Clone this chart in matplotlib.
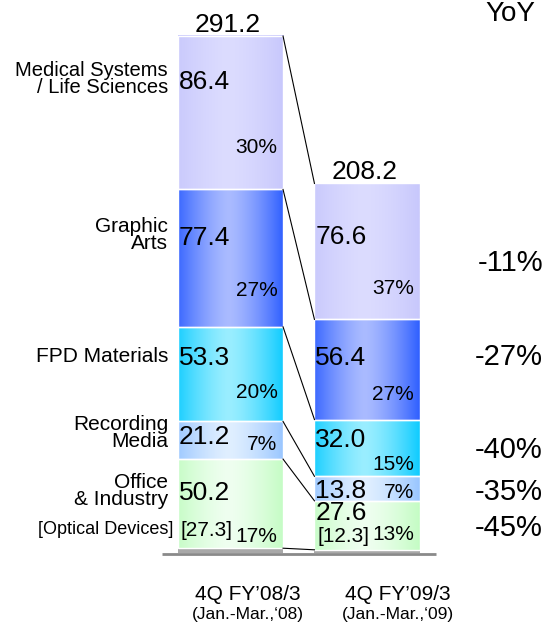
import numpy as np
import matplotlib
matplotlib.use("Agg")
import matplotlib.pyplot as plt

plt.rcParams['font.family'] = ['Liberation Sans', 'DejaVu Sans']

# data (billion yen), stacked top -> bottom
segments = ["Medical Systems\n/ Life Sciences", "Graphic\nArts", "FPD Materials",
            "Recording\nMedia", "Office\n& Industry"]
fy08 = [86.4, 77.4, 53.3, 21.2, 50.2]
fy09 = [76.6, 56.4, 32.0, 13.8, 27.6]
share08 = [30, 27, 20, 7, 17]
share09 = [37, 27, 15, 7, 13]
totals = [291.2, 208.2]
optical = [27.3, 12.3]
yoy = [-11, -27, -40, -35, -45]
periods = ["4Q FY\u201908/3", "4Q FY\u201909/3"]
subperiods = ["(Jan.-Mar.,\u201808)", "(Jan.-Mar.,\u201809)"]

# colours: (edge, centre) for the gradients
colors = [("#c8c8fc", "#dcdcff"), ("#3060ff", "#aabbff"), ("#10ccff", "#9aeeff"),
          ("#99c6ff", "#e0efff"), ("#c4fcc4", "#effff0")]
other_color = "#a8a8a8"

# pixel layout helpers (reference is 550x623)
X0, UX = 230.5, 136.5
BASE, UY = 553.0, 1.775


def px(x, y):
    return (x - X0) / UX, (BASE - y) / UY


def gradient(edge, centre, n=80):
    e = np.array(matplotlib.colors.to_rgb(edge))
    c = np.array(matplotlib.colors.to_rgb(centre))
    t = np.linspace(0, 1, n)
    w = np.clip(np.abs(t - 0.48) / 0.52, 0, 1) ** 1.4
    return (c[None, :] * (1 - w[:, None]) + e[None, :] * w[:, None])[None, :, :]


fig = plt.figure(figsize=(5.5, 6.23), dpi=100)
ax = fig.add_axes([0, 0, 1, 1])
ax.axis("off")

xs = [0, 1]
width = 0.77
bounds = []
for xi, vals, tot in zip(xs, [fy08, fy09], totals):
    other = tot - sum(vals)
    left, right = xi - width / 2, xi + width / 2
    ax.add_patch(plt.Rectangle((left, 0), width, other, facecolor=other_color,
                               edgecolor="none", zorder=2))
    bottom = other
    for v, (ec, cc) in zip(vals[::-1], colors[::-1]):
        ax.imshow(gradient(ec, cc), extent=(left, right, bottom, bottom + v),
                  aspect="auto", interpolation="bilinear", zorder=2)
        ax.add_patch(plt.Rectangle((left, bottom), width, v, facecolor="none",
                                   edgecolor="white", lw=1.0, zorder=3))
        bottom += v
    # boundaries top -> bottom: total top, then each segment bottom
    b = [tot] + [tot - sum(vals[:i + 1]) for i in range(len(vals))]
    bounds.append(b)

# connecting lines
for y1, y2 in zip(bounds[0], bounds[1]):
    ax.plot([xs[0] + width / 2, xs[1] - width / 2], [y1, y2], color="black",
            lw=0.8, zorder=4)

# baseline
ax.plot([px(162, 0)[0], px(436, 0)[0]], [-0.5, -0.5], color="#8a8a8a", lw=2,
        zorder=1, solid_capstyle="butt")

# totals
for xi, tot, ty in zip(xs, totals, [32, 179]):
    ax.text(xi - 0.02, px(0, ty)[1], f"{tot:.1f}", ha="center", va="baseline",
            fontsize=19)

# segment labels on the left
label_y = [79, 235, 357, 433, 491]
for lab, ly in zip(segments, label_y):
    fs = 14.5 if lab.startswith("Medical") else 15
    ax.text(*px(168, ly), lab, ha="right", va="center", fontsize=fs,
            linespacing=0.92)
ax.text(*px(173, 530), "[Optical Devices]", ha="right", va="center", fontsize=13)

# values and shares in the bars
val_y08 = [82, 238, 358, 437, 493]
pct_y08 = [147, 290, 393, 445, 537]
val_y09 = [237, 358, 440, 491, 513]
pct_y09 = [288, 395, 464, 493, 535]
for xi, vals, shares, vy, py in [(0, fy08, share08, val_y08, pct_y08),
                                 (1, fy09, share09, val_y09, pct_y09)]:
    left, right = xi - width / 2, xi + width / 2
    for v, s, a, b in zip(vals, shares, vy, py):
        ax.text(left + 0.005, px(0, a)[1], f"{v:.1f}", ha="left", va="center",
                fontsize=19)
        ax.text(right - 0.04, px(0, b)[1], f"{s}%", ha="right", va="center",
                fontsize=15)

for xi, opt, oy in zip(xs, optical, [530, 537]):
    ax.text(xi - width / 2 + 0.02, px(0, oy)[1], f"[{opt:.1f}]", ha="left",
            va="center", fontsize=15)

# YoY column
ax.text(*px(510, 14), "YoY", ha="center", va="center", fontsize=20)
for v, yy in zip(yoy, [263, 357, 450, 492, 528]):
    ax.text(*px(543, yy), f"{v}%", ha="right", va="center", fontsize=21)

# period labels
for cx, p, sp in zip([248, 398], periods, subperiods):
    ax.text(*px(cx, 594), p, ha="center", va="center", fontsize=15)
    ax.text(*px(cx, 614), sp, ha="center", va="center", fontsize=12.5)

ax.set_xlim(-X0 / UX, (550 - X0) / UX)
ax.set_ylim((BASE - 623) / UY, BASE / UY)

fig.savefig("out.png", dpi=100)
